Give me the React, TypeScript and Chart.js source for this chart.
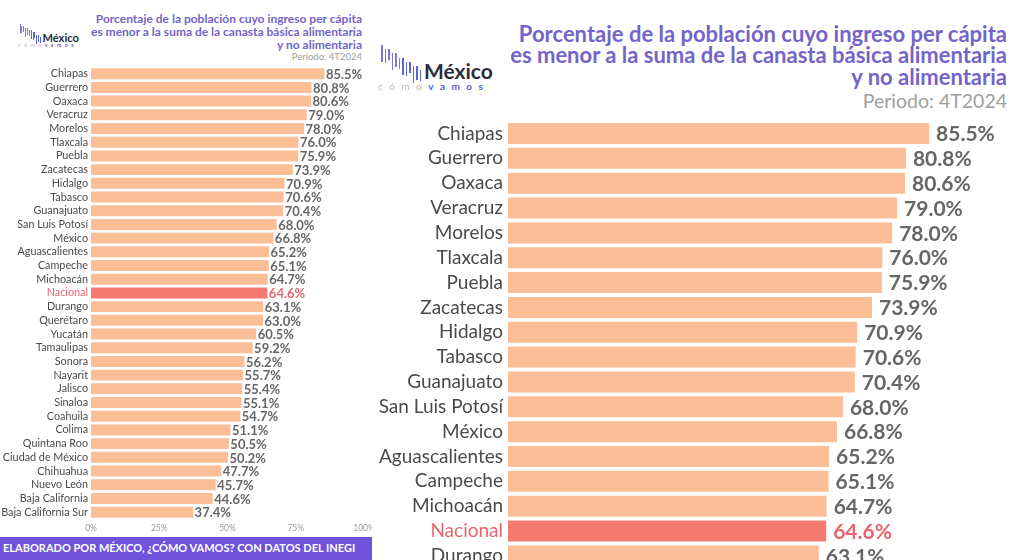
import React, { useEffect, useRef } from "react";
import { Chart, registerables } from "chart.js";

Chart.register(...registerables);

const states = [
  "Chiapas", "Guerrero", "Oaxaca", "Veracruz", "Morelos", "Tlaxcala", "Puebla",
  "Zacatecas", "Hidalgo", "Tabasco", "Guanajuato", "San Luis Potosí", "México",
  "Aguascalientes", "Campeche", "Michoacán", "Nacional", "Durango", "Querétaro",
  "Yucatán", "Tamaulipas", "Sonora", "Nayarit", "Jalisco", "Sinaloa", "Coahuila",
  "Colima", "Quintana Roo", "Ciudad de México", "Chihuahua", "Nuevo León",
  "Baja California", "Baja California Sur",
];
const values = [
  85.5, 80.8, 80.6, 79.0, 78.0, 76.0, 75.9, 73.9, 70.9, 70.6, 70.4, 68.0, 66.8,
  65.2, 65.1, 64.7, 64.6, 63.1, 63.0, 60.5, 59.2, 56.2, 55.7, 55.4, 55.1, 54.7,
  51.1, 50.5, 50.2, 47.7, 45.7, 44.6, 37.4,
];
const xTicks = [0, 25, 50, 75, 100];
const highlightName = "Nacional";
const titleLines = [
  "Porcentaje de la población cuyo ingreso per cápita",
  "es menor a la suma de la canasta básica alimentaria",
  "y no alimentaria",
];
const periodText = "Periodo: 4T2024";
const footerText = "ELABORADO POR MÉXICO, ¿CÓMO VAMOS? CON DATOS DEL INEGI";

const FONT = "Lato, 'Noto Sans', sans-serif";
const BAR = "#fbbe96";
const BAR_HI = "#f47a70";
const LABEL_HI = "#e8646e";
const TITLE = "#7464c9";

type PanelOpts = {
  width: number;
  height: number;
  padTop: number;
  padRight: number;
  yWidth: number;
  xHeight: number;
  labelSize: number;
  valueSize: number;
  valueOffset: number;
  tickPad: number;
  showX: boolean;
  xTickSize: number;
  barPct: number;
};

function BarChart({ o }: { o: PanelOpts }) {
  const ref = useRef<HTMLCanvasElement | null>(null);
  useEffect(() => {
    if (!ref.current) return;
    const valuePlugin = {
      id: "valueLabels",
      afterDatasetsDraw(chart: any) {
        const ctx = chart.ctx;
        const meta = chart.getDatasetMeta(0);
        ctx.save();
        ctx.font = `bold ${o.valueSize}px ${FONT}`;
        ctx.textAlign = "left";
        ctx.textBaseline = "middle";
        meta.data.forEach((bar: any, i: number) => {
          ctx.fillStyle = states[i] === highlightName ? LABEL_HI : "#666666";
          ctx.fillText(values[i].toFixed(1) + "%", bar.x + o.valueOffset, bar.y + 1);
        });
        ctx.restore();
      },
    };
    const chart = new Chart(ref.current, {
      type: "bar",
      data: {
        labels: states,
        datasets: [
          {
            data: values,
            backgroundColor: states.map((s) => (s === highlightName ? BAR_HI : BAR)),
            barPercentage: o.barPct,
            categoryPercentage: 1,
            borderWidth: 0,
          },
        ],
      },
      options: {
        indexAxis: "y",
        animation: false,
        responsive: false,
        maintainAspectRatio: false,
        events: [],
        layout: { padding: { top: o.padTop, right: o.padRight, left: 0, bottom: 0 } },
        plugins: { legend: { display: false }, tooltip: { enabled: false } },
        scales: {
          x: {
            display: o.showX,
            min: 0,
            max: 100,
            afterBuildTicks(scale: any) {
              scale.ticks = xTicks.map((v) => ({ value: v }));
            },
            afterFit(scale: any) {
              scale.height = o.xHeight;
              scale.paddingLeft = 0;
              scale.paddingRight = 0;
            },
            grid: { display: false, drawTicks: false },
            border: { display: false },
            ticks: {
              padding: 4,
              maxRotation: 0,
              color: "#9a9a9a",
              font: { family: FONT, size: o.xTickSize },
              callback: (v: any) => v + "%",
            },
          },
          y: {
            afterFit(scale: any) {
              scale.width = o.yWidth;
              scale.paddingTop = 0;
              scale.paddingBottom = 0;
            },
            grid: { display: false, drawTicks: false },
            border: { display: false },
            ticks: {
              padding: o.tickPad,
              autoSkip: false,
              color: (c: any) => (states[c.index] === highlightName ? LABEL_HI : "#4a4a4a"),
              font: { family: FONT, size: o.labelSize },
            },
          },
        },
      },
      plugins: [valuePlugin],
    } as any);
    return () => chart.destroy();
  }, []);
  return <canvas ref={ref} width={o.width} height={o.height} style={{ display: "block" }} />;
}

function Logo({ s }: { s: number }) {
  const bars = Array.from({ length: 12 }, (_, i) => i);
  return (
    <div style={{ position: "relative", width: 116 * s, height: 50 * s }}>
      {bars.map((i) => (
        <div
          key={i}
          style={{
            position: "absolute",
            left: (3 + i * 3.5) * s,
            top: (3 + i * 2.1 + (i % 2) * 2) * s,
            width: 1.7 * s,
            height: (17 - (i % 3) * 3) * s,
            background: i < 6 ? "#8274dc" : "#5b63d6",
          }}
        />
      ))}
      <div
        style={{
          position: "absolute",
          left: 46 * s,
          top: 18 * s,
          fontFamily: FONT,
          fontWeight: 700,
          fontSize: 21 * s,
          color: "#2c2c3a",
          lineHeight: 1,
        }}
      >
        México
      </div>
      <div
        style={{
          position: "absolute",
          left: 0,
          top: 39 * s,
          fontFamily: FONT,
          fontSize: 10 * s,
          letterSpacing: 6.5 * s,
          lineHeight: 1,
          whiteSpace: "nowrap",
        }}
      >
        <span style={{ color: "#b8b8c4" }}>cómo</span>
        <span style={{ color: "#5a62cf", fontWeight: 700 }}>vamos</span>
      </div>
    </div>
  );
}

function Title({ size, period, lh, plh }: { size: number; period: number; lh: number; plh: number }) {
  return (
    <div style={{ textAlign: "right", fontFamily: FONT }}>
      {titleLines.map((t) => (
        <div key={t} style={{ fontSize: size, fontWeight: 700, color: TITLE, lineHeight: lh + "px", whiteSpace: "nowrap" }}>
          {t}
        </div>
      ))}
      <div style={{ fontSize: period, color: "#a0a0a0", lineHeight: plh + "px", whiteSpace: "nowrap" }}>{periodText}</div>
    </div>
  );
}

const leftOpts: PanelOpts = {
  width: 372,
  height: 475,
  padTop: 6.85,
  padRight: 8,
  yWidth: 91,
  xHeight: 16,
  labelSize: 10.8,
  valueSize: 13,
  valueOffset: 1.5,
  tickPad: 3,
  showX: true,
  xTickSize: 8.5,
  barPct: 0.8,
};

const rightOpts: PanelOpts = {
  width: 645,
  height: 826,
  padTop: 6.07,
  padRight: 19.5,
  yWidth: 133,
  xHeight: 0,
  labelSize: 19,
  valueSize: 21,
  valueOffset: 7,
  tickPad: 5,
  showX: false,
  xTickSize: 14,
  barPct: 0.845,
};

export default function App() {
  return (
    <div
      style={{
        position: "absolute",
        left: 0,
        top: 0,
        width: 1020,
        height: 560,
        overflow: "hidden",
        background: "#ffffff",
      }}
    >
      {/* Left panel */}
      <div style={{ position: "absolute", left: 0, top: 0, width: 372, height: 560, overflow: "hidden" }}>
        <div style={{ position: "absolute", left: 18, top: 22 }}>
          <Logo s={0.53} />
        </div>
        <div style={{ position: "absolute", right: 10, top: 11.5 }}>
          <Title size={12} period={9.5} lh={13} plh={11} />
        </div>
        <div style={{ position: "absolute", left: 0, top: 60 }}>
          <BarChart o={leftOpts} />
        </div>
        <div
          style={{
            position: "absolute",
            left: 0,
            top: 537,
            width: 372,
            height: 23,
            background: "#7053dd",
            color: "#ffffff",
            fontFamily: FONT,
            fontWeight: 700,
            fontSize: 11,
            lineHeight: "22px",
            paddingLeft: 3,
            boxSizing: "border-box",
            whiteSpace: "nowrap",
          }}
        >
          {footerText}
        </div>
      </div>
      {/* Right panel */}
      <div style={{ position: "absolute", left: 375, top: 0, width: 645, height: 560, overflow: "hidden" }}>
        <div style={{ position: "absolute", left: 3, top: 42 }}>
          <Logo s={1} />
        </div>
        <div style={{ position: "absolute", right: 13, top: 22.5 }}>
          <Title size={22} period={19.5} lh={21.7} plh={25} />
        </div>
        <div style={{ position: "absolute", left: 0, top: 115 }}>
          <BarChart o={rightOpts} />
        </div>
      </div>
    </div>
  );
}
